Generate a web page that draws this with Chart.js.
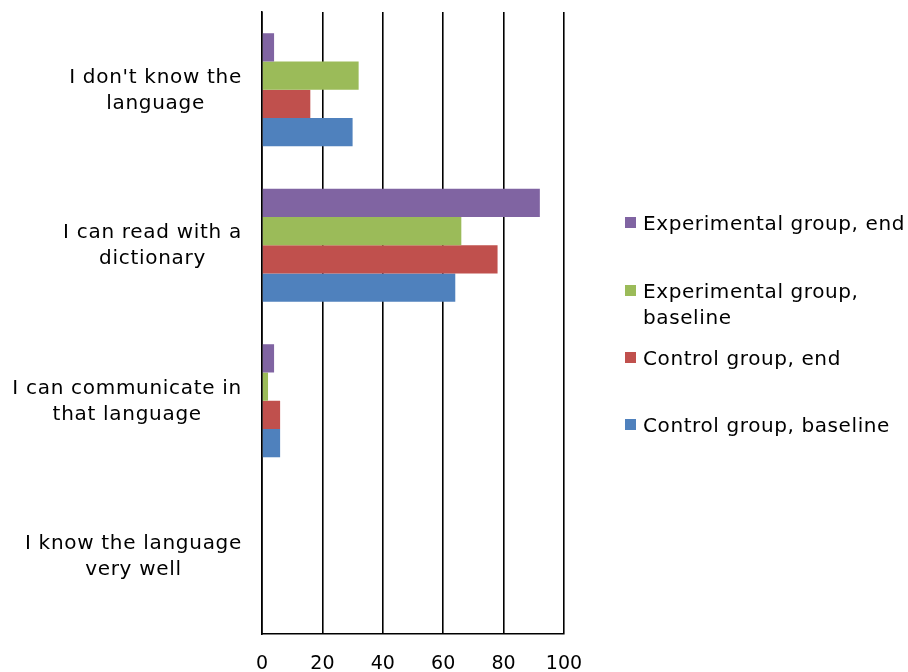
<!DOCTYPE html>
<html>
<head>
<meta charset="utf-8">
<script src="https://cdn.jsdelivr.net/npm/chart.js@4.4.1/dist/chart.umd.min.js"></script>
<style>
  html, body { margin: 0; padding: 0; background: #fff; }
  #wrap { position: relative; width: 908px; height: 672px; }
  .leg { position: absolute; left: 625px; font-family: "DejaVu Sans", Verdana, sans-serif; font-size: 20px; letter-spacing: 0.6px; color: #000; line-height: 26px; }
  .leg .box { position: absolute; left: 0; width: 11px; height: 11px; }
  .leg .txt { position: absolute; left: 18px; white-space: nowrap; }
</style>
</head>
<body>
<div id="wrap">
  <canvas id="c"></canvas>
  <div id="legend"></div>
</div>
<script>
const categories = [
  ["I don't know the", "language"],
  ["I can read with a", "dictionary"],
  ["I can communicate in", "that language"],
  ["I know the language", "very well"]
];
const seriesNames = [
  ["Experimental group, end"],
  ["Experimental group,", "baseline"],
  ["Control group, end"],
  ["Control group, baseline"]
];
const seriesColors = ["#8064A2", "#9BBB59", "#C0504D", "#4F81BD"];
const expEnd   = [4, 92, 4, 0];
const expBase  = [32, 66, 2, 0];
const ctrlEnd  = [16, 78, 6, 0];
const ctrlBase = [30, 64, 6, 0];
const xTicks = [0, 20, 40, 60, 80, 100];

const seriesValues = [expEnd, expBase, ctrlEnd, ctrlBase];

const yLabelPlugin = {
  id: 'yLabels',
  afterDraw(chart) {
    const y = chart.scales.y;
    const ctx = chart.ctx;
    ctx.save();
    ctx.font = '20px "DejaVu Sans", Verdana, sans-serif';
    try { ctx.letterSpacing = '0.7px'; } catch (e) {}
    ctx.fillStyle = '#000';
    ctx.textAlign = 'center';
    ctx.textBaseline = 'middle';
    const rightEdge = y.right - 20;
    categories.forEach((lines, i) => {
      const cy = y.getPixelForValue(i);
      const maxW = Math.max(...lines.map(l => ctx.measureText(l).width));
      const cx = rightEdge - maxW / 2;
      lines.forEach((l, j) => {
        ctx.fillText(l, cx, cy + 1 + (j - (lines.length - 1) / 2) * 26);
      });
    });
    ctx.restore();
  }
};

const chart = new Chart(document.getElementById('c'), {
  type: 'bar',
  data: {
    labels: categories.map(c => c.join(' ')),
    datasets: seriesValues.map((vals, i) => ({
      label: seriesNames[i].join(' '),
      data: vals,
      backgroundColor: seriesColors[i],
      borderWidth: 0,
      barPercentage: 1.0,
      categoryPercentage: 0.727
    }))
  },
  options: {
    indexAxis: 'y',
    responsive: true,
    maintainAspectRatio: false,
    animation: false,
    devicePixelRatio: 1,
    layout: { padding: { top: 12, right: 344, bottom: 0, left: 0 } },
    plugins: { legend: { display: false }, tooltip: { enabled: false } },
    scales: {
      x: {
        min: 0, max: 100,
        afterBuildTicks(scale) { scale.ticks = xTicks.map(v => ({ value: v })); },
        afterFit(scale) { scale.height = 38; },
        grid: { color: '#000', lineWidth: 1.6, drawTicks: false, tickLength: 0 },
        border: { display: true, color: '#000', width: 1.6 },
        ticks: {
          padding: 19,
          color: '#000',
          font: { family: '"DejaVu Sans", Verdana, sans-serif', size: 19 }
        }
      },
      y: {
        afterFit(scale) { scale.width = 262; },
        grid: { display: false, drawTicks: false },
        border: { display: true, color: '#000', width: 1.6 },
        ticks: { display: false }
      }
    }
  },
  plugins: [yLabelPlugin]
});

// HTML legend
const legendTops = [223, 291, 358, 425];
const legendEl = document.getElementById('legend');
seriesNames.forEach((lines, i) => {
  const d = document.createElement('div');
  d.className = 'leg';
  d.style.top = (legendTops[i] - 13) + 'px';
  const b = document.createElement('div');
  b.className = 'box';
  b.style.background = seriesColors[i];
  b.style.top = '7px';
  d.appendChild(b);
  const t = document.createElement('div');
  t.className = 'txt';
  t.innerHTML = lines.join('<br>');
  d.appendChild(t);
  legendEl.appendChild(d);
});
</script>
</body>
</html>
